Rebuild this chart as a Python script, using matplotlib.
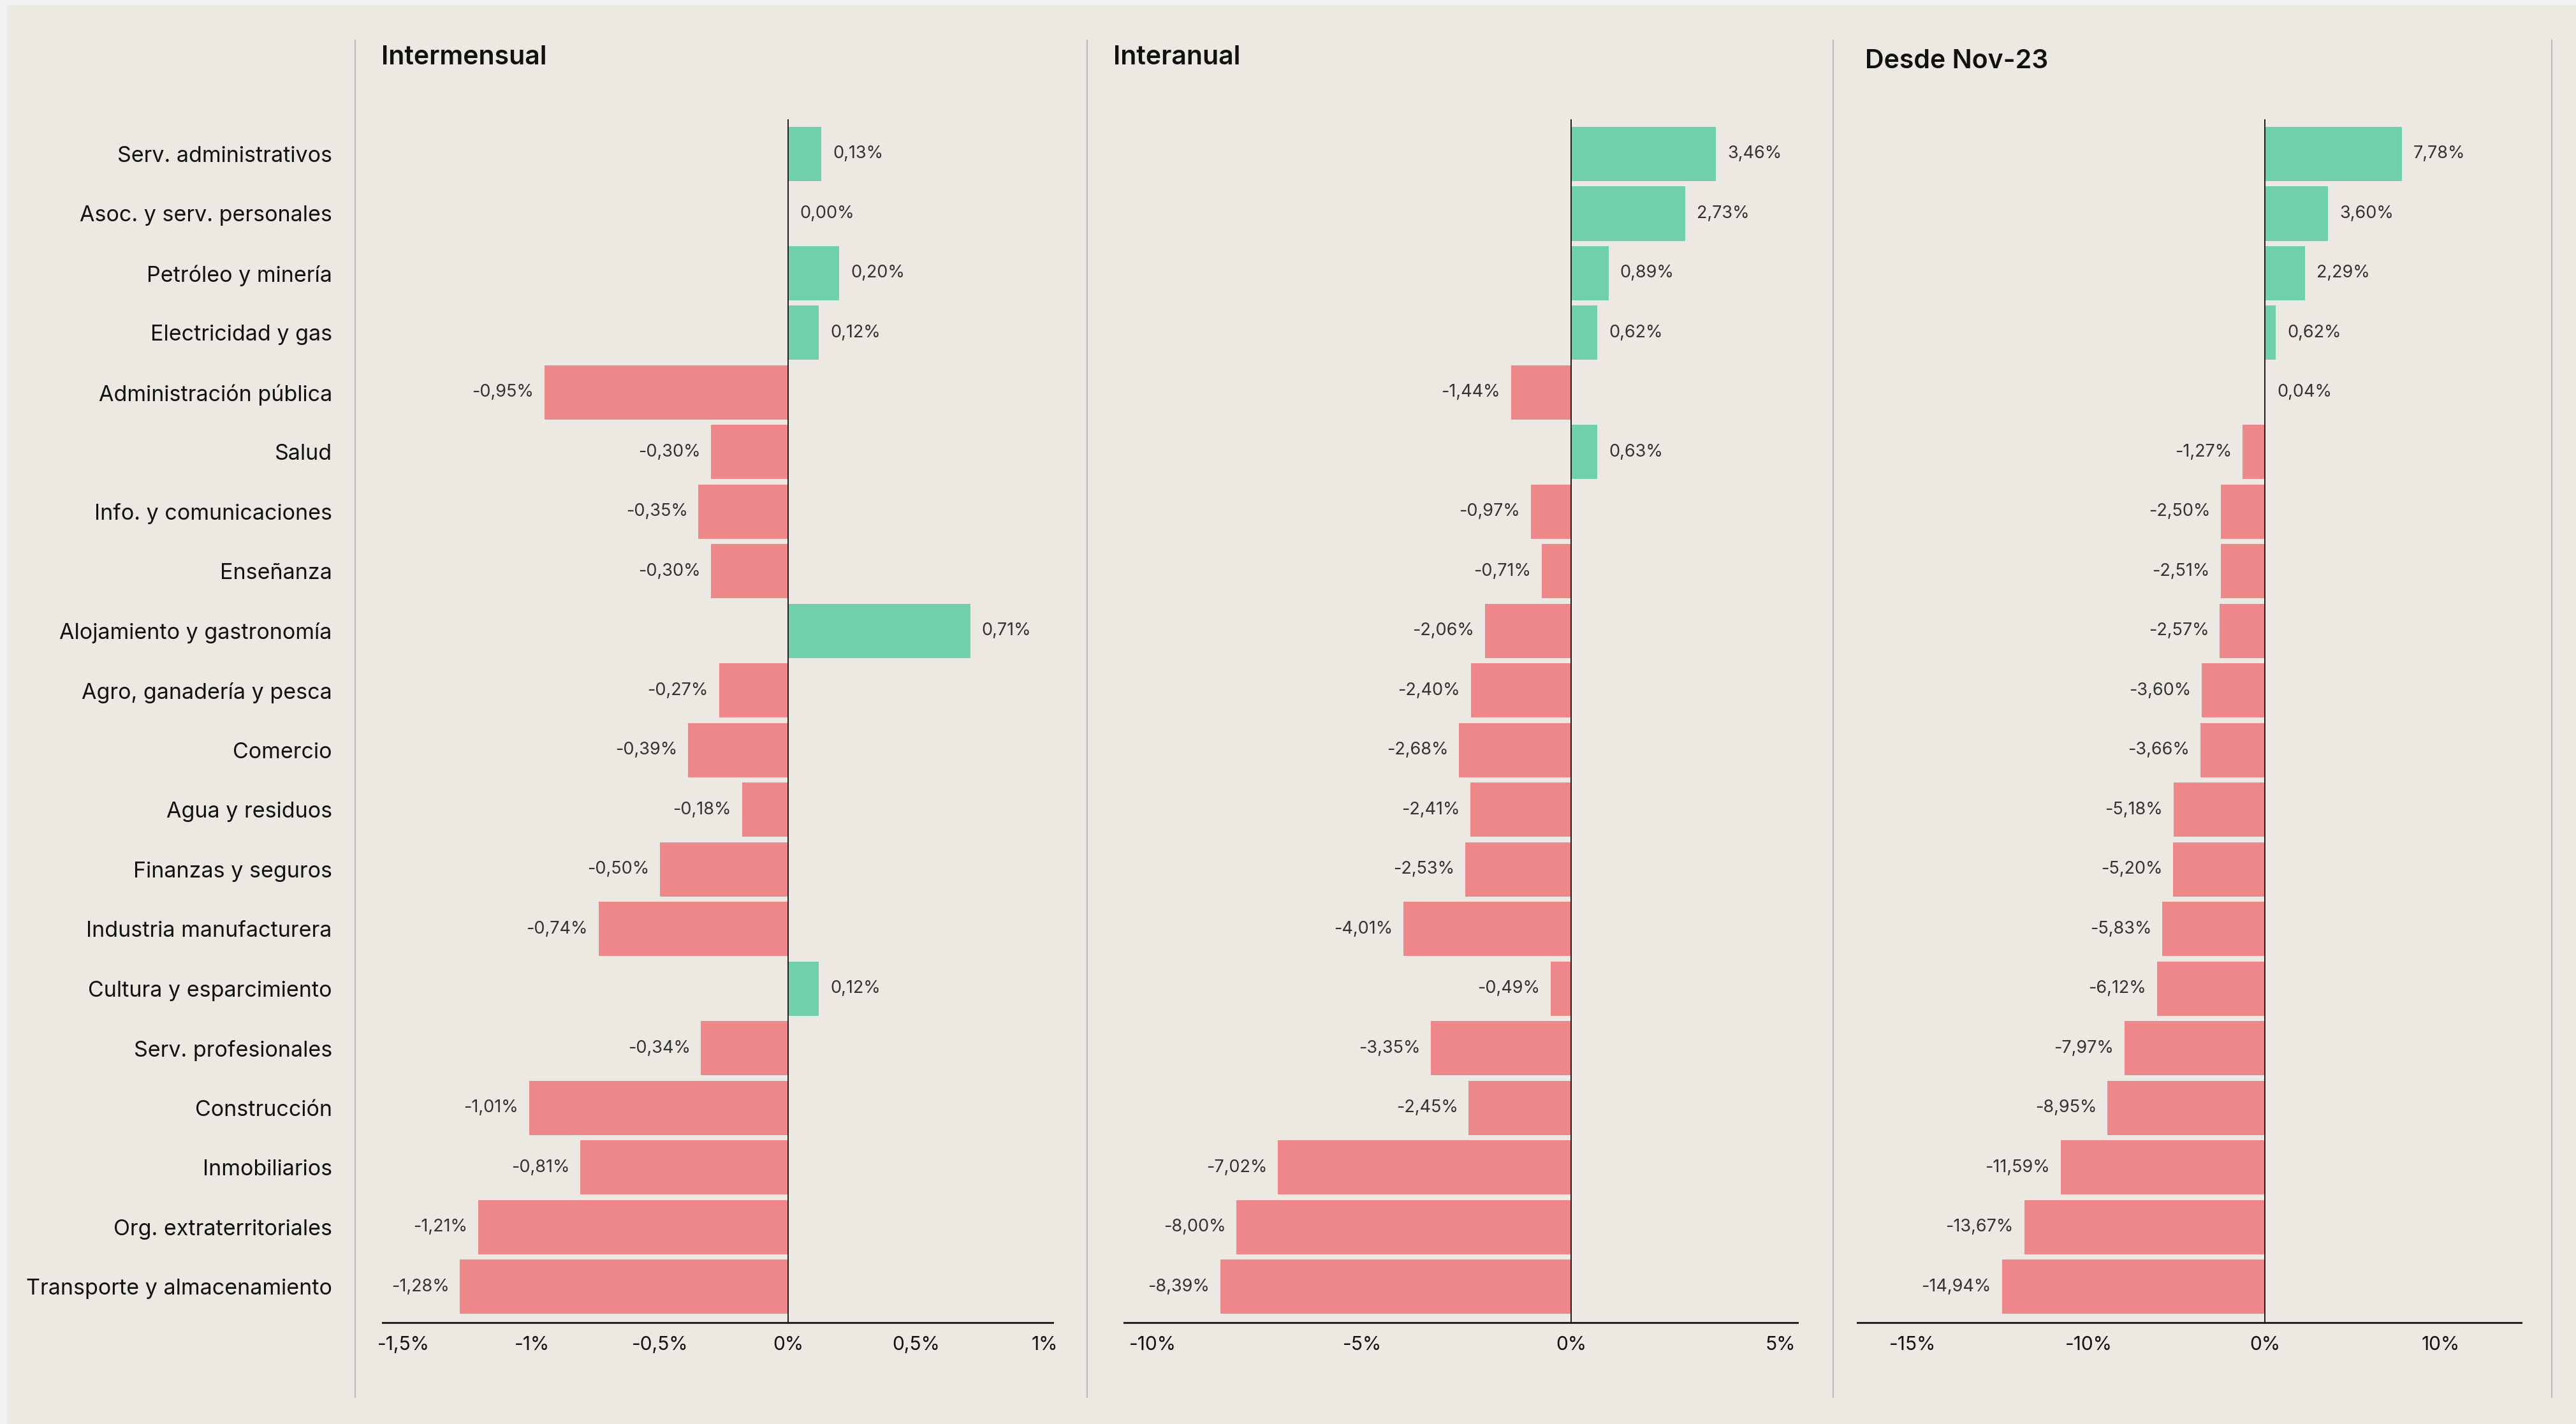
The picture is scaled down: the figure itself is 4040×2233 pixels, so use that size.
import matplotlib.pyplot as plt
from matplotlib.lines import Line2D
from matplotlib.patches import Rectangle

plt.rcParams['font.family'] = ['Inter', 'DejaVu Sans']

categories = [
    "Serv. administrativos", "Asoc. y serv. personales", "Petróleo y minería",
    "Electricidad y gas", "Administración pública", "Salud",
    "Info. y comunicaciones", "Enseñanza", "Alojamiento y gastronomía",
    "Agro, ganadería y pesca", "Comercio", "Agua y residuos",
    "Finanzas y seguros", "Industria manufacturera", "Cultura y esparcimiento",
    "Serv. profesionales", "Construcción", "Inmobiliarios",
    "Org. extraterritoriales", "Transporte y almacenamiento",
]

intermensual = [0.13, 0.00, 0.20, 0.12, -0.95, -0.30, -0.35, -0.30, 0.71, -0.27,
                -0.39, -0.18, -0.50, -0.74, 0.12, -0.34, -1.01, -0.81, -1.21, -1.28]
interanual = [3.46, 2.73, 0.89, 0.62, -1.44, 0.63, -0.97, -0.71, -2.06, -2.40,
              -2.68, -2.41, -2.53, -4.01, -0.49, -3.35, -2.45, -7.02, -8.00, -8.39]
desde_nov23 = [7.78, 3.60, 2.29, 0.62, 0.04, -1.27, -2.50, -2.51, -2.57, -3.60,
               -3.66, -5.18, -5.20, -5.83, -6.12, -7.97, -8.95, -11.59, -13.67, -14.94]

titles = ["Intermensual", "Interanual", "Desde Nov-23"]

ticks_1 = [-1.5, -1, -0.5, 0, 0.5, 1]
ticklabels_1 = ["-1,5%", "-1%", "-0,5%", "0%", "0,5%", "1%"]
ticks_2 = [-10, -5, 0, 5]
ticklabels_2 = ["-10%", "-5%", "0%", "5%"]
# the source puts its "-15%" label where -20 would be
ticks_3 = [-20, -10, 0, 10]
ticklabels_3 = ["-15%", "-10%", "0%", "10%"]

BG = "#ECE9E2"
GREEN = "#70D0AB"
RED = "#EE8789"
W, H = 4040, 2233

fig = plt.figure(figsize=(W / 100, H / 100), dpi=100, facecolor=BG)
# light outer frame on top and left
fig.patches.append(Rectangle((0, 1 - 7 / H), 1, 7 / H, transform=fig.transFigure,
                             color="#F2F2F2", zorder=0))
fig.patches.append(Rectangle((0, 0), 10 / W, 1, transform=fig.transFigure,
                             color="#F2F2F2", zorder=0))

panels = [
    (intermensual, (600, 1651), (-1.582, 1.032), ticks_1, ticklabels_1, (598, 101)),
    (interanual, (1763, 2819), (-10.69, 5.41), ticks_2, ticklabels_2, (1746, 101)),
    (desde_nov23, (2913, 3954), (-23.15, 14.57), ticks_3, ticklabels_3, (2925, 107)),
]

top_px, bottom_px = 187, 2074
n = len(categories)
ypos = list(range(n))

for i, (vals, (x0, x1), xlim, ticks, tlabels, (tx, ty)) in enumerate(panels):
    ax = fig.add_axes([x0 / W, 1 - bottom_px / H, (x1 - x0) / W, (bottom_px - top_px) / H])
    ax.set_facecolor("none")
    colors = [GREEN if v >= 0 else RED for v in vals]
    ax.barh(ypos, vals, height=0.91, color=colors, zorder=2)
    ax.axvline(0, color="#1a1a1a", lw=1.4, zorder=3)
    ax.set_xlim(*xlim)
    ax.set_ylim(n - 1 + 0.604, -0.583)

    for y, v in zip(ypos, vals):
        txt = f"{v:.2f}%".replace(".", ",")
        if v >= 0:
            ax.annotate(txt, (v, y), xytext=(13, 0), textcoords="offset points",
                        ha="left", va="center", fontsize=19.5, color="#333333")
        else:
            ax.annotate(txt, (v, y), xytext=(-12, 0), textcoords="offset points",
                        ha="right", va="center", fontsize=19.5, color="#333333")

    for s in ["top", "right", "left"]:
        ax.spines[s].set_visible(False)
    ax.spines["bottom"].set_linewidth(2.2)
    ax.spines["bottom"].set_color("#222222")

    ax.set_xticks(ticks)
    ax.set_xticklabels(tlabels, fontsize=21.5, color="#111111")
    ax.tick_params(axis="x", length=0, pad=15)

    if i == 0:
        ax.set_yticks(ypos)
        ax.set_yticklabels(categories, fontsize=24.5, color="#111111")
        ax.tick_params(axis="y", length=0, pad=57)
    else:
        ax.set_yticks([])

    fig.text(tx / W, 1 - ty / H, titles[i], fontsize=29.5, fontweight="semibold",
             color="#111111", ha="left", va="baseline")

# grey separators between panels
for sx in [557, 1705, 2875, 4002]:
    fig.add_artist(Line2D([sx / W, sx / W], [1 - 63 / H, 1 - 2191 / H],
                          transform=fig.transFigure, color="#BDBDBD", lw=1.6))

fig.savefig("out.png", dpi=100, facecolor=BG)
